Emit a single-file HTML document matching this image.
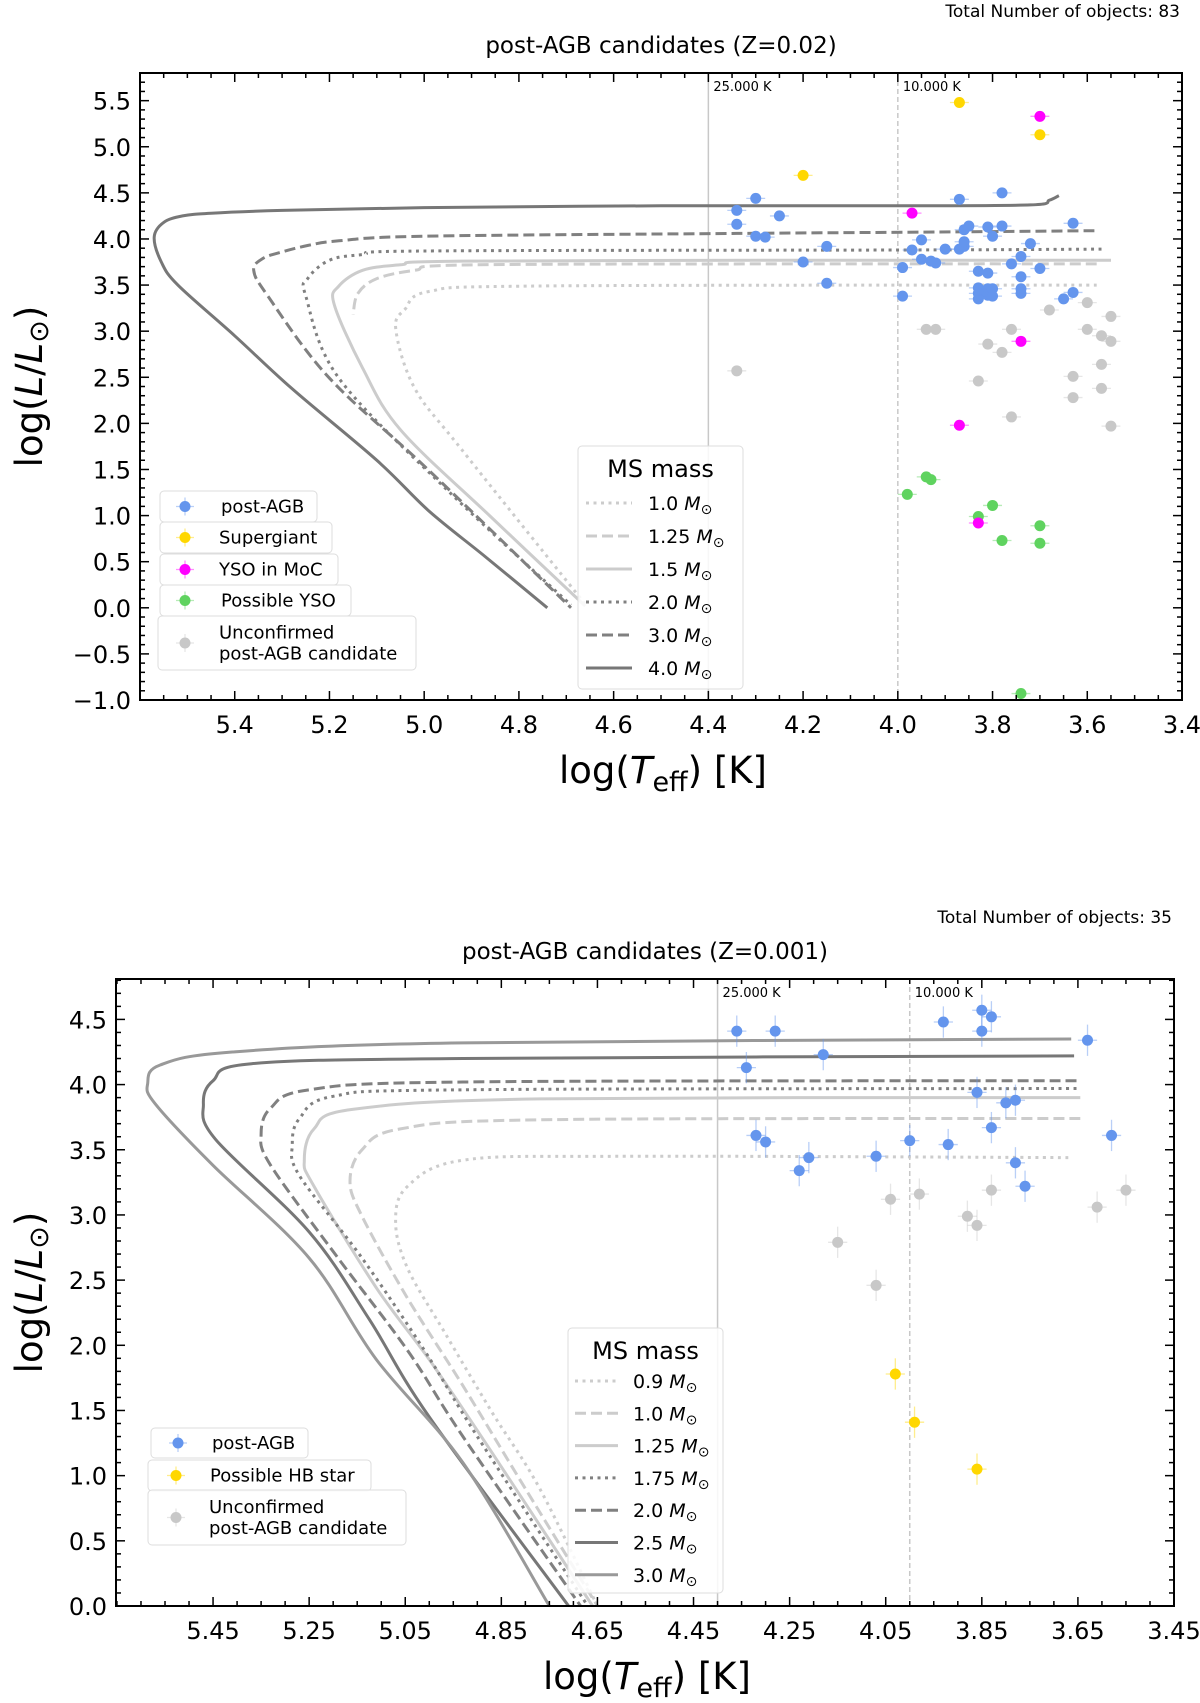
<!DOCTYPE html>
<html><head><meta charset="utf-8"><style>
body{margin:0;background:#fff}
svg text{font-family:"DejaVu Sans","Liberation Sans",sans-serif;fill:#000}
</style></head><body>
<svg id="svg" width="1200" height="1698" viewBox="0 0 1200 1698" xmlns="http://www.w3.org/2000/svg"></svg>
<script>
// ===== Top panel data (Z=0.02) =====
const topBlueT=[4.34,4.34,4.30,4.30,4.28,4.25,4.15,4.15,4.20,3.99,3.99,3.97,3.95,3.95,3.93,3.92,3.90,3.87,3.87,3.86,3.86,3.86,3.85,3.83,3.83,3.83,3.83,3.81,3.81,3.81,3.81,3.80,3.80,3.80,3.78,3.78,3.76,3.74,3.74,3.74,3.74,3.72,3.70,3.65,3.63,3.63];
const topBlueL=[4.31,4.16,4.44,4.03,4.02,4.25,3.92,3.52,3.75,3.69,3.38,3.88,3.99,3.78,3.76,3.74,3.89,4.43,3.89,3.92,3.97,4.10,4.14,3.65,3.47,3.41,3.35,3.63,4.13,3.46,3.39,4.03,3.46,3.38,4.14,4.50,3.73,3.81,3.59,3.46,3.41,3.95,3.68,3.35,3.42,4.17];
const topYellowT=[3.87,3.70,4.20];
const topYellowL=[5.48,5.13,4.69];
const topMagT=[3.70,3.97,3.74,3.87,3.83];
const topMagL=[5.33,4.28,2.89,1.98,0.92];
const topGreenT=[3.94,3.93,3.98,3.80,3.83,3.78,3.70,3.70,3.74];
const topGreenL=[1.42,1.39,1.23,1.11,0.99,0.73,0.89,0.70,-0.93];
const topGrayT=[4.34,3.94,3.92,3.76,3.68,3.60,3.55,3.60,3.57,3.55,3.81,3.78,3.83,3.63,3.57,3.57,3.63,3.76,3.55];
const topGrayL=[2.57,3.02,3.02,3.02,3.23,3.31,3.16,3.02,2.95,2.89,2.86,2.77,2.46,2.51,2.64,2.38,2.28,2.07,1.97];
const topTrackNames=["1.0","1.25","1.5","2.0","3.0","4.0"];
const topTrk10T=[3.58,4.76,4.99,5.04,5.06,5.02,4.92,4.66];
const topTrk10L=[3.50,3.49,3.43,3.24,3.02,2.38,1.71,0.04];
const topTrk125T=[3.58,4.0,4.89,5.02,5.10,5.14,5.15];
const topTrk125L=[3.73,3.73,3.72,3.66,3.57,3.41,3.18];
const topTrk15T=[3.55,4.0,4.92,5.05,5.13,5.18,5.19,5.13,5.05,4.86,4.66];
const topTrk15L=[3.77,3.77,3.76,3.72,3.66,3.49,3.29,2.60,1.93,0.99,0.02];
const topTrk20T=[3.57,4.0,5.0,5.13,5.20,5.246,5.25,5.18,4.95,4.69];
const topTrk20L=[3.89,3.88,3.87,3.83,3.77,3.57,3.38,2.49,1.27,0.03];
const topTrk30T=[3.585,3.8,4.34,5.0,5.18,5.245,5.30,5.34,5.36,5.33,5.20,4.99,4.69];
const topTrk30L=[4.09,4.08,4.06,4.03,3.98,3.93,3.86,3.79,3.66,3.38,2.49,1.49,0.0];
const topTrk40T=[3.66,3.68,3.72,4.0,4.5,5.0,5.3,5.45,5.51,5.55,5.57,5.555,5.52,5.40,5.28,5.10,4.99,4.87,4.74];
const topTrk40L=[4.47,4.42,4.37,4.36,4.36,4.34,4.31,4.28,4.25,4.18,4.02,3.75,3.50,2.95,2.38,1.60,1.05,0.55,0.0];
const topXTicks=["5.4","5.2","5.0","4.8","4.6","4.4","4.2","4.0","3.8","3.6","3.4"];
const topYTicks=["−1.0","−0.5","0.0","0.5","1.0","1.5","2.0","2.5","3.0","3.5","4.0","4.5","5.0","5.5"];
// ===== Bottom panel data (Z=0.001) =====
const botBlueT=[4.36,4.34,4.32,4.30,4.28,4.23,4.21,4.18,4.07,4.00,3.93,3.92,3.86,3.85,3.85,3.83,3.83,3.80,3.78,3.78,3.76,3.63,3.58];
const botBlueL=[4.41,4.13,3.61,3.56,4.41,3.34,3.44,4.23,3.45,3.57,4.48,3.54,3.94,4.57,4.41,4.52,3.67,3.86,3.88,3.40,3.22,4.34,3.61];
const botYellowT=[4.03,3.99,3.86];
const botYellowL=[1.78,1.41,1.05];
const botGrayT=[4.15,4.07,4.04,3.98,3.88,3.86,3.83,3.61,3.55];
const botGrayL=[2.79,2.46,3.12,3.16,2.99,2.92,3.19,3.06,3.19];
const botTrackNames=["0.9","1.0","1.25","1.75","2.0","2.5","3.0"];
const botTrk09T=[3.67,4.61,4.93,5.045,5.07,5.045,4.965,4.87,4.77,4.65];
const botTrk09L=[3.44,3.45,3.42,3.22,2.95,2.59,2.08,1.49,0.90,0.0];
const botTrk10T=[3.645,4.77,5.06,5.14,5.165,5.14,5.045,4.93,4.80,4.65];
const botTrk10L=[3.74,3.73,3.66,3.50,3.26,2.99,2.36,1.69,0.90,0.0];
const botTrk125T=[3.645,4.77,5.16,5.24,5.26,5.24,5.11,5.0,4.87,4.66];
const botTrk125L=[3.90,3.89,3.81,3.66,3.42,3.22,2.44,1.89,1.18,0.0];
const botTrk175T=[3.653,4.93,5.20,5.27,5.285,5.27,5.14,5.01,4.90,4.67];
const botTrk175L=[3.97,3.96,3.91,3.74,3.54,3.30,2.67,1.96,1.30,0.0];
const botTrk20T=[3.653,4.93,5.25,5.33,5.35,5.33,5.19,5.045,4.93,4.685];
const botTrk20L=[4.03,4.02,3.96,3.82,3.62,3.38,2.67,1.96,1.30,0.0];
const botTrk25T=[3.658,4.93,5.37,5.45,5.47,5.445,5.25,5.125,5.0,4.71];
const botTrk25L=[4.22,4.20,4.16,4.03,3.85,3.58,2.87,2.20,1.45,0.0];
const botTrk30T=[3.664,4.93,5.41,5.56,5.586,5.57,5.45,5.25,5.11,4.93,4.75];
const botTrk30L=[4.35,4.32,4.25,4.15,4.01,3.85,3.38,2.67,1.89,1.10,0.0];
const botXTicks=["5.45","5.25","5.05","4.85","4.65","4.45","4.25","4.05","3.85","3.65","3.45"];
const botYTicks=["0.0","0.5","1.0","1.5","2.0","2.5","3.0","3.5","4.0","4.5"];

const NS="http://www.w3.org/2000/svg";
const svg=document.getElementById('svg');
function mk(tag,attrs,parent){const e=document.createElementNS(NS,tag);for(const k in attrs)e.setAttribute(k,attrs[k]);(parent||svg).appendChild(e);return e;}
function txt(s,attrs,parent){const e=mk('text',attrs,parent);e.textContent=s;return e;}
function smooth(P){
  let d='M'+P[0][0].toFixed(1)+' '+P[0][1].toFixed(1);
  for(let i=0;i<P.length-1;i++){
    const p0=P[Math.max(0,i-1)],p1=P[i],p2=P[i+1],p3=P[Math.min(P.length-1,i+2)];
    const c1=[p1[0]+(p2[0]-p0[0])/6,p1[1]+(p2[1]-p0[1])/6];
    const c2=[p2[0]-(p3[0]-p1[0])/6,p2[1]-(p3[1]-p1[1])/6];
    d+=` C${c1[0].toFixed(1)} ${c1[1].toFixed(1)} ${c2[0].toFixed(1)} ${c2[1].toFixed(1)} ${p2[0].toFixed(1)} ${p2[1].toFixed(1)}`;
  }
  return d;
}

function panel(cfg){
  const g=mk('g',{});
  
  
  const X=v=>cfg.L+(cfg.x0-v)/(cfg.x0-cfg.x1)*(cfg.R-cfg.L);
  const Y=v=>cfg.B-(v-cfg.y0)/(cfg.y1-cfg.y0)*(cfg.B-cfg.T);
  const v1=mk('line',{x1:X(4.4),x2:X(4.4),y1:cfg.T,y2:cfg.B,stroke:'#c8c8c8','stroke-width':1.5},g);
  
  
  const v2=mk('line',{x1:X(4.0),x2:X(4.0),y1:cfg.T,y2:cfg.B,stroke:'#c8c8c8','stroke-width':1.5,'stroke-dasharray':'5 3'},g);
  
  
  const t1=txt('25.000 K',{x:X(4.4)+5,y:cfg.T+18,'font-size':13},g);
  
  
  const t2=txt('10.000 K',{x:X(4.0)+5,y:cfg.T+18,'font-size':13},g);
  
  
  cfg.tracks.forEach(tr=>{
    const P=tr.T.map((t,i)=>[X(t),Y(tr.Lv[i])]);
    const p=mk('path',{d:smooth(P),fill:'none',stroke:tr.c,'stroke-width':3,'stroke-dasharray':tr.dash,'stroke-linejoin':'round'},g);
    
    
  });
  cfg.series.forEach(s=>{
    s.T.forEach((t,i)=>{
      const cx=X(t),cy=Y(s.Lv[i]);
      const ex=X(t-cfg.xe)-cx, ey=Y(s.Lv[i]-cfg.ye)-cy;
      mk('line',{x1:cx-ex,x2:cx+ex,y1:cy,y2:cy,stroke:s.c,'stroke-opacity':0.45,'stroke-width':1.3},g);
      mk('line',{x1:cx,x2:cx,y1:cy-ey,y2:cy+ey,stroke:s.c,'stroke-opacity':0.45,'stroke-width':1.3},g);
      const c=mk('circle',{cx:cx,cy:cy,r:5.5,fill:s.c},g);
      
      
    });
  });
  const fr=mk('rect',{x:cfg.L,y:cfg.T,width:cfg.R-cfg.L,height:cfg.B-cfg.T,fill:'none',stroke:'#000','stroke-width':2},g);
  
  
  const xt=cfg.xticks.map(parseFloat);
  for(let v=cfg.x1;v<=cfg.x0+1e-6;v+=0.05){
    const vv=Math.round(v*100)/100;
    const major=xt.some(m=>Math.abs(m-vv)<1e-6);
    const len=major?9:5, x=X(vv);
    mk('line',{x1:x,x2:x,y1:cfg.B,y2:cfg.B-len,stroke:'#000','stroke-width':1.5},g);
    mk('line',{x1:x,x2:x,y1:cfg.T,y2:cfg.T+len,stroke:'#000','stroke-width':1.5},g);
  }
  cfg.xticks.forEach(s=>{const el=txt(s,{x:X(parseFloat(s)),y:cfg.B+33,'font-size':24,'text-anchor':'middle'},g);
    
    });
  for(let v=cfg.y0;v<=cfg.y1+1e-6;v+=0.1){
    const vv=Math.round(v*10)/10;
    const major=Math.abs(vv*2-Math.round(vv*2))<1e-6;
    const len=major?9:5, y=Y(vv);
    mk('line',{x1:cfg.L,x2:cfg.L+len,y1:y,y2:y,stroke:'#000','stroke-width':1.5},g);
    mk('line',{x1:cfg.R,x2:cfg.R-len,y1:y,y2:y,stroke:'#000','stroke-width':1.5},g);
  }
  cfg.yticks.forEach(s=>{const el=txt(s,{x:cfg.L-9,y:Y(parseFloat(s.replace('−','-')))+9,'font-size':24,'text-anchor':'end'},g);
    
    });
  const xl=txt('',{x:(cfg.L+cfg.R)/2+2,y:cfg.B+83,'font-size':37,'text-anchor':'middle'},g);
  xl.innerHTML='log(<tspan font-style="italic">T</tspan><tspan font-size="27" dy="8">eff</tspan><tspan dy="-8">) [K]</tspan>';
  
  
  const yl=txt('',{x:0,y:0,'font-size':37,'text-anchor':'middle',transform:`translate(${cfg.yLabX},${(cfg.T+cfg.B)/2}) rotate(-90)`},g);
  yl.innerHTML='log(<tspan font-style="italic">L</tspan>/<tspan font-style="italic">L</tspan><tspan font-size="27" dy="6">⊙</tspan><tspan dy="-6">)</tspan>';
  
  
  const ti=txt(cfg.title,{x:(cfg.L+cfg.R)/2,y:cfg.T-20,'font-size':23,'text-anchor':'middle'},g);
  
  
  const tn=txt(cfg.total,{x:cfg.R-2,y:cfg.totY,'font-size':17,'text-anchor':'end'},g);
  
  
  cfg.sLeg.forEach(e=>{
    const lg=mk('g',{},g);
    
    
    mk('rect',{x:e.x,y:e.y,width:e.w,height:e.h,rx:4,fill:'#fff','fill-opacity':0.85,stroke:'#ddd'},lg);
    const cy=e.y+e.h/2;
    mk('line',{x1:e.mx-9,x2:e.mx+9,y1:cy,y2:cy,stroke:e.c,'stroke-opacity':0.45,'stroke-width':1.3},lg);
    mk('line',{x1:e.mx,x2:e.mx,y1:cy-9,y2:cy+9,stroke:e.c,'stroke-opacity':0.45,'stroke-width':1.3},lg);
    mk('circle',{cx:e.mx,cy:cy,r:5.5,fill:e.c},lg);
    e.lines.forEach((s,i)=>txt(s,{x:e.tx,y:cy+6+(i-(e.lines.length-1)/2)*21,'font-size':18},lg));
  });
  const m=cfg.mLeg;
  const mg=mk('g',{},g);
  
  
  mk('rect',{x:m.x,y:m.y,width:m.w,height:m.h,rx:4,fill:'#fff','fill-opacity':0.85,stroke:'#ddd'},mg);
  txt('MS mass',{x:m.x+m.w/2,y:m.y+31,'font-size':24,'text-anchor':'middle'},mg);
  cfg.tracks.forEach((tr,i)=>{
    const y=m.y0+i*m.dy;
    mk('line',{x1:m.lx,x2:m.lx+m.lw,y1:y,y2:y,stroke:tr.c,'stroke-width':3,'stroke-dasharray':tr.dash},mg);
    const t=txt('',{x:m.tx,y:y+7,'font-size':19},mg);
    t.innerHTML=tr.n+' <tspan font-style="italic">M</tspan><tspan font-size="14" dy="4">⊙</tspan>';
  });
}
const LT='#cccccc', MD='#808080', DK='#777777', DOT='3 4.5', DASH='11 5';
panel({name:'top-panel-z002',L:140,R:1182,T:73,B:700,x0:5.6,x1:3.4,y0:-1.0,y1:5.8,xe:0.02,ye:0.05,
  xticks:topXTicks,yticks:topYTicks,yLabX:42,title:'post-AGB candidates (Z=0.02)',total:'Total Number of objects: 83',totY:17,
  tracks:[{n:topTrackNames[0],T:topTrk10T,Lv:topTrk10L,c:LT,dash:DOT},{n:topTrackNames[1],T:topTrk125T,Lv:topTrk125L,c:LT,dash:DASH},
    {n:topTrackNames[2],T:topTrk15T,Lv:topTrk15L,c:LT,dash:''},{n:topTrackNames[3],T:topTrk20T,Lv:topTrk20L,c:MD,dash:DOT},
    {n:topTrackNames[4],T:topTrk30T,Lv:topTrk30L,c:MD,dash:DASH},{n:topTrackNames[5],T:topTrk40T,Lv:topTrk40L,c:DK,dash:''}],
  series:[{n:'unconfirmed',T:topGrayT,Lv:topGrayL,c:'#c8c8c8'},{n:'possible-yso',T:topGreenT,Lv:topGreenL,c:'#5fd35f'},
    {n:'post-agb',T:topBlueT,Lv:topBlueL,c:'#6495ED'},{n:'supergiant',T:topYellowT,Lv:topYellowL,c:'#FFD700'},{n:'yso-moc',T:topMagT,Lv:topMagL,c:'#FF00FF'}],
  sLeg:[{n:'post-agb',x:160,y:491,w:157,h:31,mx:185,tx:221,c:'#6495ED',lines:['post-AGB']},
    {n:'supergiant',x:160,y:522,w:172,h:31,mx:185,tx:219,c:'#FFD700',lines:['Supergiant']},
    {n:'yso-moc',x:160,y:554,w:178,h:31,mx:185,tx:219,c:'#FF00FF',lines:['YSO in MoC']},
    {n:'possible-yso',x:160,y:585,w:191,h:31,mx:185,tx:221,c:'#5fd35f',lines:['Possible YSO']},
    {n:'unconfirmed',x:158,y:616,w:258,h:54,mx:185,tx:219,c:'#c8c8c8',lines:['Unconfirmed','post-AGB candidate']}],
  mLeg:{x:578,y:446,w:165,h:243,y0:503,dy:33,lx:586,lw:46,tx:648}
});
panel({name:'bottom-panel-z0001',L:116,R:1174,T:979,B:1606,x0:5.652,x1:3.45,y0:0,y1:4.81,xe:0.02,ye:0.12,
  xticks:botXTicks,yticks:botYTicks,yLabX:42,title:'post-AGB candidates (Z=0.001)',total:'Total Number of objects: 35',totY:923,
  tracks:[{n:botTrackNames[0],T:botTrk09T,Lv:botTrk09L,c:LT,dash:DOT},{n:botTrackNames[1],T:botTrk10T,Lv:botTrk10L,c:LT,dash:DASH},
    {n:botTrackNames[2],T:botTrk125T,Lv:botTrk125L,c:LT,dash:''},{n:botTrackNames[3],T:botTrk175T,Lv:botTrk175L,c:MD,dash:DOT},
    {n:botTrackNames[4],T:botTrk20T,Lv:botTrk20L,c:MD,dash:DASH},{n:botTrackNames[5],T:botTrk25T,Lv:botTrk25L,c:DK,dash:''},
    {n:botTrackNames[6],T:botTrk30T,Lv:botTrk30L,c:'#999999',dash:''}],
  series:[{n:'unconfirmed',T:botGrayT,Lv:botGrayL,c:'#c8c8c8'},{n:'post-agb',T:botBlueT,Lv:botBlueL,c:'#6495ED'},{n:'hb-star',T:botYellowT,Lv:botYellowL,c:'#FFD700'}],
  sLeg:[{n:'post-agb',x:151,y:1428,w:157,h:30,mx:178,tx:212,c:'#6495ED',lines:['post-AGB']},
    {n:'hb-star',x:148,y:1460,w:223,h:31,mx:176,tx:210,c:'#FFD700',lines:['Possible HB star']},
    {n:'unconfirmed',x:148,y:1490,w:258,h:55,mx:176,tx:209,c:'#c8c8c8',lines:['Unconfirmed','post-AGB candidate']}],
  mLeg:{x:568,y:1328,w:155,h:265,y0:1381,dy:32.3,lx:575,lw:43,tx:633}
});
</script>
</body></html>
